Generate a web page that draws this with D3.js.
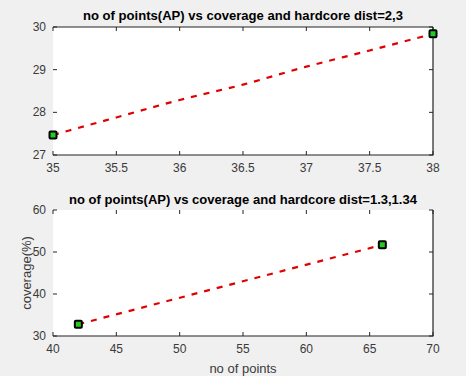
<!DOCTYPE html>
<html><head><meta charset="utf-8">
<script src="https://cdn.jsdelivr.net/npm/d3@7"></script>
<style>body{margin:0;background:#f0f0f0;} svg{display:block;} text{font-family:"Liberation Sans",Arial,Helvetica,sans-serif;}</style>
</head><body><svg id="c" width="466" height="376"></svg>
<script>
// Top panel data
const topTitle = "no of points(AP) vs coverage and hardcore dist=2,3";
const topLineX = [35, 35.5, 36, 36.5, 37, 37.5, 38];
const topLineY = [27.47, 27.88, 28.29, 28.65, 29.07, 29.45, 29.84];
const topMarkX = [35, 38];
const topMarkY = [27.47, 29.84];
const topXTicks = [35, 35.5, 36, 36.5, 37, 37.5, 38];
const topYTicks = [27, 28, 29, 30];
// Bottom panel data
const botTitle = "no of points(AP) vs coverage and hardcore dist=1.3,1.34";
const botLineX = [42, 66];
const botLineY = [32.8, 51.7];
const botMarkX = [42, 66];
const botMarkY = [32.8, 51.7];
const botXTicks = [40, 45, 50, 55, 60, 65, 70];
const botYTicks = [30, 40, 50, 60];
const xLabel = "no of points";
const yLabel = "coverage(%)";

const svg = d3.select("#c");

function panel(o){
  const x = d3.scaleLinear().domain(o.xd).range([53, 433]);
  const y = d3.scaleLinear().domain(o.yd).range([o.y1, o.y0]);
  const g = svg.append("g");
  g.append("rect").attr("x",53).attr("y",o.y0).attr("width",380).attr("height",o.y1-o.y0).attr("fill","#fff");
  const tl = 4;
  o.xt.forEach(t=>{
    g.append("line").attr("x1",x(t)).attr("x2",x(t)).attr("y1",o.y1).attr("y2",o.y1-tl).attr("stroke","#262626");
    g.append("line").attr("x1",x(t)).attr("x2",x(t)).attr("y1",o.y0).attr("y2",o.y0+tl).attr("stroke","#262626");
    g.append("text").attr("x",x(t)).attr("y",o.y1+17).attr("text-anchor","middle").attr("font-size",12).attr("fill","#3a3a3a").text(t);
  });
  o.yt.forEach(t=>{
    g.append("line").attr("x1",53).attr("x2",53+tl).attr("y1",y(t)).attr("y2",y(t)).attr("stroke","#262626");
    g.append("line").attr("x1",433).attr("x2",433-tl).attr("y1",y(t)).attr("y2",y(t)).attr("stroke","#262626");
    g.append("text").attr("x",46).attr("y",y(t)+4).attr("text-anchor","end").attr("font-size",12).attr("fill","#3a3a3a").text(t);
  });
  g.append("line").attr("x1",53).attr("x2",433.5).attr("y1",o.y1).attr("y2",o.y1).attr("stroke","#222").attr("stroke-width",1.2);
  g.append("line").attr("x1",433).attr("x2",433).attr("y1",o.y0).attr("y2",o.y1).attr("stroke","#222").attr("stroke-width",1.2);
  if(o.topLine) g.append("line").attr("x1",53).attr("x2",433).attr("y1",o.y0).attr("y2",o.y0).attr("stroke","#222").attr("stroke-width",1.2);
  const pts = o.lx.map((v,i)=>[v,o.ly[i]]);
  g.append("path").datum(pts)
    .attr("d", d3.line().x(d=>x(d[0])).y(d=>y(d[1])).curve(d3.curveMonotoneX))
    .attr("fill","none").attr("stroke","#e00000").attr("stroke-width",2.2).attr("stroke-dasharray","6,7");
  o.mx.forEach((v,i)=>{
    g.append("rect").attr("x",x(v)-3.5).attr("y",y(o.my[i])-3.5).attr("width",7).attr("height",7).attr("rx",1)
      .attr("fill","#22cc22").attr("stroke","#000").attr("stroke-width",2);
  });
  g.append("text").attr("x",243).attr("y",o.titleY).attr("text-anchor","middle").attr("font-size",13).attr("font-weight","bold").attr("fill","#000")
    .attr("textLength",o.titleW).attr("lengthAdjust","spacingAndGlyphs").text(o.title);
}

panel({xd:[35,38], yd:[27,30], y0:27, y1:155, xt:topXTicks, yt:topYTicks, lx:topLineX, ly:topLineY, mx:topMarkX, my:topMarkY, title:topTitle, titleY:20, titleW:320, topLine:true});
panel({xd:[40,70], yd:[30,60], y0:210, y1:336, xt:botXTicks, yt:botYTicks, lx:botLineX, ly:botLineY, mx:botMarkX, my:botMarkY, title:botTitle, titleY:204, titleW:348, topLine:false});

svg.append("text").attr("x",243).attr("y",373).attr("text-anchor","middle").attr("font-size",13).attr("fill","#3a3a3a").text(xLabel);
svg.append("text").attr("transform","translate(31,273) rotate(-90)").attr("text-anchor","middle").attr("font-size",13).attr("fill","#3a3a3a").text(yLabel);
</script></body></html>
